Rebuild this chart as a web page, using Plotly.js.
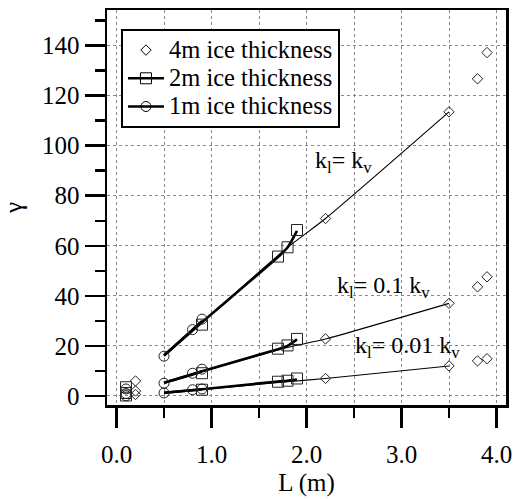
<!DOCTYPE html>
<html><head><meta charset="utf-8">
<script src="https://cdn.plot.ly/plotly-3.0.1.min.js"></script>
<style>html,body{margin:0;padding:0;background:#fff}#chart{width:525px;height:499px}</style>
</head><body><div id="chart"></div><script>
// ---- 4 m ice thickness (diamonds) ----
const L4 = [0.2, 2.2, 3.5, 3.8, 3.9];
const g4_kv   = [6.0, 70.9, 113.5, 126.7, 137.2];
const g4_k01  = [2.0, 22.8, 37.0, 43.6, 47.6];
const g4_k001 = [0.6, 7.0, 12.0, 14.0, 14.9];
// thin lines (4 m trend)
const Lthin = [0.5, 1.8, 2.2, 3.5];
const thin_kv   = [16.0, 59.3, 70.9, 113.5];
const thin_k01  = [5.2, 19.4, 22.8, 37.0];
const thin_k001 = [1.2, 5.7, 7.0, 12.0];
// ---- 2 m ice thickness (squares) ----
const L2 = [0.1, 0.9, 1.7, 1.8, 1.9];
const g2_kv   = [3.5, 28.5, 55.7, 59.4, 66.3];
const g2_k01  = [1.2, 9.1, 18.9, 20.2, 22.8];
const g2_k001 = [0.2, 2.5, 5.7, 6.1, 7.0];
const L2c = [0.5, 0.9, 1.7, 1.8, 1.9];
const c2_kv   = [16.2, 29.5, 55.5, 59.3, 66.0];
const c2_k01  = [5.3, 9.9, 18.7, 20.0, 22.6];
const c2_k001 = [1.3, 2.7, 5.8, 6.1, 6.6];
// ---- 1 m ice thickness (circles) ----
const L1 = [0.1, 0.5, 0.8, 0.9];
const g1_kv   = [2.8, 15.9, 26.5, 30.7];
const g1_k01  = [1.0, 5.1, 9.1, 10.7];
const g1_k001 = [0.1, 1.2, 2.5, 2.8];
const L1c = [0.5, 0.8, 0.9];
const c1_kv   = [16.2, 26.5, 30.0];
const c1_k01  = [5.3, 8.6, 9.9];
const c1_k001 = [1.3, 2.3, 2.7];

const seriesNames = ['4m ice thickness', '2m ice thickness', '1m ice thickness'];
const annTexts = ['k<sub>l</sub>= k<sub>v</sub>', 'k<sub>l</sub>= 0.1 k<sub>v</sub>', 'k<sub>l</sub>= 0.01 k<sub>v</sub>'];
const annX = [2.07, 2.30, 2.49];
const annY = [93.5, 43.5, 19.4];

const FONT = 'Liberation Serif';
const traces = [];
function line(x, y, w) {
  traces.push({x, y, mode: 'lines', line: {color: '#000', width: w, shape: 'spline', smoothing: 0.6}, showlegend: false, hoverinfo: 'skip'});
}
function marks(x, y, sym, size) {
  traces.push({x, y, mode: 'markers', marker: {symbol: sym, size, color: '#222', line: {width: 1, color: '#222'}}, showlegend: false});
}
[thin_kv, thin_k01, thin_k001].forEach(y => line(Lthin, y, 1.1));
[c2_kv, c2_k01, c2_k001].forEach(y => line(L2c, y, 2.6));
[c1_kv, c1_k01, c1_k001].forEach(y => line(L1c, y, 2.6));
[g4_kv, g4_k01, g4_k001].forEach(y => marks(L4, y, 'diamond-open', 8));
[g2_kv, g2_k01, g2_k001].forEach(y => marks(L2, y, 'square-open', 11));
[g1_kv, g1_k01, g1_k001].forEach(y => marks(L1, y, 'circle-open', 10));
// legend entries
const lg = s => '<span style="font-size:24.5px">' + s + '</span>';
traces.push({x: [null], y: [null], name: lg(seriesNames[0]), mode: 'markers', marker: {symbol: 'diamond-open', size: 8, color: '#000', line: {width: 1}}, showlegend: true});
traces.push({x: [null], y: [null], name: lg(seriesNames[1]), mode: 'lines+markers', line: {color: '#000', width: 2.6}, marker: {symbol: 'square-open', size: 11, color: '#000', line: {width: 1}}, showlegend: true});
traces.push({x: [null], y: [null], name: lg(seriesNames[2]), mode: 'lines+markers', line: {color: '#000', width: 2.6}, marker: {symbol: 'circle-open', size: 10, color: '#000', line: {width: 1}}, showlegend: true});

const layout = {
  width: 525, height: 499,
  margin: {l: 107, r: 19, t: 7, b: 93},
  paper_bgcolor: '#fff', plot_bgcolor: '#fff',
  font: {family: FONT, size: 25, color: '#000'},
  showlegend: true,
  legend: {x: 0.035, y: 0.952, xanchor: 'left', yanchor: 'top', bgcolor: '#fff', bordercolor: '#000', borderwidth: 2,
           itemwidth: 36, font: {family: FONT, size: 19.4, color: '#000'}, tracegroupgap: 0},
  xaxis: {range: [-0.1, 4.1], tick0: 0, dtick: 1, tickformat: '.1f', ticks: 'outside', ticklen: 20, tickwidth: 2.5, tickcolor: '#000',
          ticklabelstandoff: 5, automargin: true,
          showline: true, linewidth: 2.5, linecolor: '#000', mirror: true, zeroline: false,
          showgrid: true, gridcolor: '#888', gridwidth: 1, griddash: '3px,3px',
          minor: {dtick: 0.5, ticks: 'outside', ticklen: 10, tickwidth: 2.5, tickcolor: '#000', showgrid: true, gridcolor: '#888', gridwidth: 1, griddash: '3px,3px'},
          title: {text: 'L (m)', font: {family: FONT, size: 25}, standoff: 7}, tickfont: {family: FONT, size: 25}},
  yaxis: {range: [-3.6, 154.2], tick0: 0, dtick: 20, ticks: 'outside', ticklen: 20, tickwidth: 2.5, tickcolor: '#000',
          automargin: true,
          showline: true, linewidth: 2.5, linecolor: '#000', mirror: true, zeroline: false,
          showgrid: true, gridcolor: '#888', gridwidth: 1, griddash: '3px,3px',
          minor: {dtick: 10, ticks: 'outside', ticklen: 10, tickwidth: 2.5, tickcolor: '#000', showgrid: false},
          title: {text: 'γ', font: {family: FONT, size: 25}, standoff: 14}, tickfont: {family: FONT, size: 25}},
  annotations: annTexts.map((t, i) => ({x: annX[i], y: annY[i], xref: 'x', yref: 'y', text: t, showarrow: false,
          xanchor: 'left', yanchor: 'middle', font: {family: FONT, size: 24, color: '#000'}}))
};
Plotly.newPlot('chart', traces, layout, {displayModeBar: false, staticPlot: true});
</script></body></html>
